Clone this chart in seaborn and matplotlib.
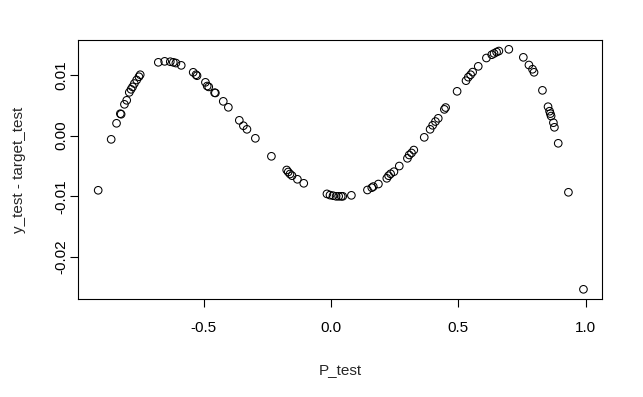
import matplotlib
matplotlib.use("Agg")
import matplotlib.pyplot as plt
import seaborn as sns
import pandas as pd

# residuals
p_test = [
    -0.914, -0.863, -0.842, -0.827, -0.824, -0.811, -0.802, -0.792, -0.785,
    -0.779, -0.772, -0.763, -0.754, -0.749, -0.678, -0.653, -0.631, -0.619,
    -0.609, -0.588, -0.541, -0.530, -0.526, -0.493, -0.486, -0.480, -0.457,
    -0.454, -0.423, -0.403, -0.360, -0.344, -0.330, -0.297, -0.234, -0.174,
    -0.168, -0.161, -0.153, -0.132, -0.107, -0.016, -0.004, 0.008, 0.020,
    0.030, 0.040, 0.046, 0.080, 0.143, 0.160, 0.166, 0.186, 0.219, 0.226,
    0.234, 0.247, 0.268, 0.300, 0.307, 0.316, 0.325, 0.366, 0.389, 0.399,
    0.410, 0.421, 0.445, 0.450, 0.495, 0.530, 0.539, 0.548, 0.556, 0.578,
    0.610, 0.631, 0.640, 0.650, 0.659, 0.698, 0.755, 0.777, 0.791, 0.797,
    0.830, 0.852, 0.858, 0.861, 0.864, 0.873, 0.877, 0.892, 0.932, 0.991,
]
residual = [
    -0.00901, -0.00063, 0.00201, 0.00359, 0.00350, 0.00513, 0.00579, 0.00710, 0.00760,
    0.00800, 0.00855, 0.00913, 0.00967, 0.01000, 0.01204, 0.01220, 0.01214, 0.01204,
    0.01192, 0.01154, 0.01040, 0.01000, 0.00984, 0.00875, 0.00814, 0.00800, 0.00704,
    0.00700, 0.00562, 0.00464, 0.00250, 0.00161, 0.00102, -0.00046, -0.00342, -0.00567,
    -0.00600, -0.00633, -0.00661, -0.00720, -0.00786, -0.00960, -0.00980, -0.00990, -0.01000,
    -0.01000, -0.01000, -0.01000, -0.00984, -0.00896, -0.00858, -0.00840, -0.00798, -0.00704,
    -0.00661, -0.00630, -0.00595, -0.00502, -0.00375, -0.00320, -0.00287, -0.00239, -0.00030,
    0.00102, 0.00168, 0.00230, 0.00283, 0.00430, 0.00460, 0.00727, 0.00902, 0.00960,
    0.01000, 0.01043, 0.01138, 0.01275, 0.01329, 0.01350, 0.01373, 0.01390, 0.01418,
    0.01286, 0.01160, 0.01090, 0.01040, 0.00743, 0.00474, 0.00400, 0.00360, 0.00320,
    0.00211, 0.00135, -0.00128, -0.00934, -0.02530,
]

x_ticks = [-0.5, 0.0, 0.5, 1.0]
x_tick_labels = ["-0.5", "0.0", "0.5", "1.0"]
y_ticks = [-0.02, -0.01, 0.00, 0.01]
y_tick_labels = ["-0.02", "-0.01", "0.00", "0.01"]

df = pd.DataFrame({"P_test": p_test, "resid": residual})

sns.set_style("white")
plt.rcParams["font.family"] = ["Liberation Sans", "DejaVu Sans"]

fig = plt.figure(figsize=(6.43, 3.97), dpi=100)
ax = fig.add_axes([0.1218, 0.2469, 0.8149, 0.6523])

sns.scatterplot(data=df, x="P_test", y="resid", ax=ax, marker="o",
                facecolors="none", edgecolor="black", linewidth=0.75, s=30)

ax.set_xlim(-0.992, 1.065)
ax.set_ylim(-0.02689, 0.01571)

ax.set_xticks(x_ticks)
ax.set_xticklabels(x_tick_labels)
ax.set_yticks(y_ticks)
ax.set_yticklabels(y_tick_labels, rotation=90, va="center")

ax.tick_params(axis="both", direction="out", length=6, width=0.8,
               color="black", labelsize=11, labelcolor="black")
ax.tick_params(axis="x", pad=10)
ax.tick_params(axis="y", pad=1.5)
ax.tick_params(top=False, right=False, bottom=True, left=True)

for sp in ax.spines.values():
    sp.set_color("black")
    sp.set_linewidth(0.8)

ax.set_xlabel("P_test", fontsize=11, labelpad=20)
ax.set_ylabel("y_test - target_test", fontsize=11, labelpad=20)

fig.savefig("out.png", dpi=100, facecolor="white")
